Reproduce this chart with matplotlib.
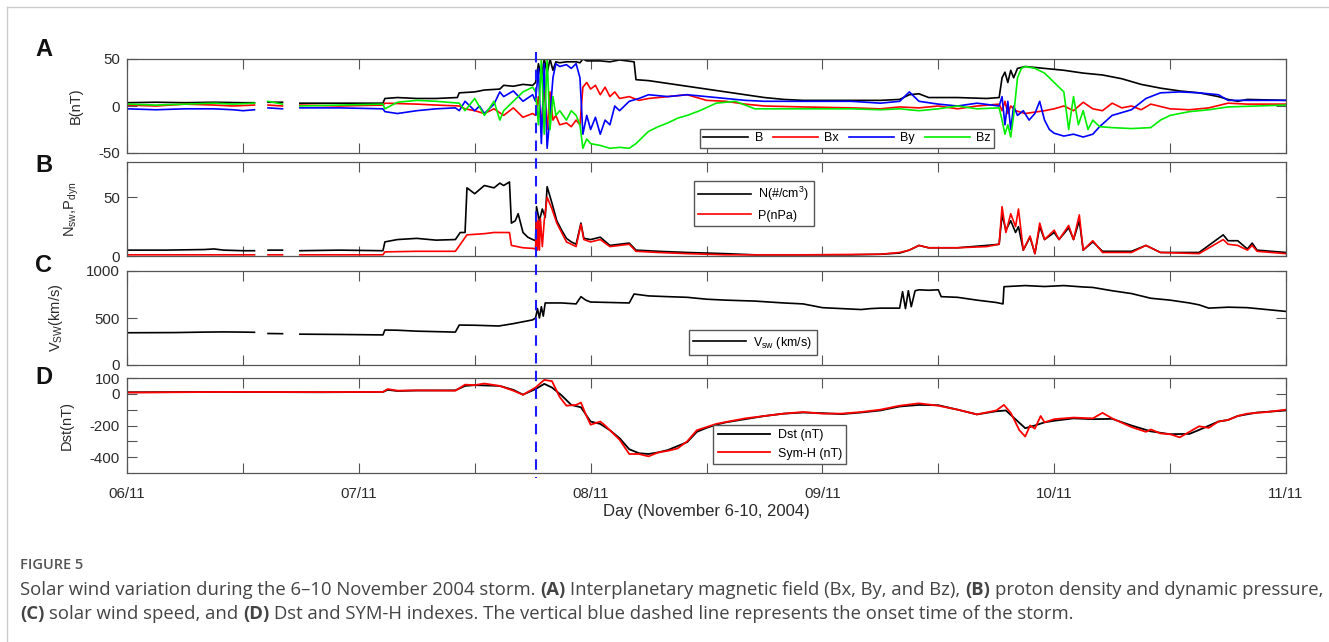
import numpy as np
import matplotlib
matplotlib.use("Agg")
import matplotlib.pyplot as plt
from matplotlib.lines import Line2D
from matplotlib.transforms import blended_transform_factory

# hours since 2004-11-06 00:00 UT; None = data gap
B_pts = [(0, 3.5), (3, 4), (6, 3.5), (9, 4), (12, 3.5), (13.2, 3.5), (13.9, None), (14.6, 4), (16.1, 4), (17, None),
         (17.9, 3), (22, 3), (26.5, 3), (26.7, 8), (28, 9), (30, 8), (32, 8), (34.2, 9), (34.4, 14), (36, 15),
         (37, 17), (38.6, 18), (39, 22), (40, 21), (41, 23), (42, 22), (42.3, 25), (42.6, 45), (42.9, 30),
         (43.2, 50), (43.5, 35), (43.8, 50), (44.1, 38), (44.4, 47), (44.8, 46), (45.5, 47), (46.5, 47),
         (46.9, 46), (47.2, 50), (47.6, 48), (49, 48), (50, 47), (51, 49), (52.5, 47), (52.7, 28), (54, 27),
         (56, 24), (58, 21), (60, 18), (62, 15), (64, 12), (66, 9), (68, 7), (70, 6), (75, 6), (78, 6), (80, 7),
         (81, 12), (82, 13), (83, 9), (86, 9), (89, 8), (90.3, 9), (90.6, 30), (90.9, 36), (91.2, 25), (91.5, 38),
         (91.8, 30), (92.2, 40), (93, 42), (95, 40), (97, 38), (99, 35), (101, 33), (103, 29), (105, 23),
         (107, 19), (109, 16), (111, 14), (113, 10), (114, 7), (115, 5), (116, 7), (120, 6)]
Bx_pts = [(0, 1), (3, 0), (6, 2), (9, 1), (11, 0), (13.2, 1), (13.9, None), (14.6, 1), (16.1, 0), (17, None),
          (17.9, 1), (22, 0), (26.5, 1), (26.7, 3), (30, 2), (32, 1), (34.4, 0), (35, -3), (36, -5), (37, -8),
          (38, -3), (39, -10), (40, -2), (41, -12), (42, -8), (42.3, -10), (42.6, 10), (42.9, -20), (43.2, 20),
          (43.5, -25), (43.8, 15), (44.1, -15), (44.4, -10), (44.8, -20), (45.5, -18), (46, -22), (46.5, -15),
          (46.9, -20), (47.2, 20), (47.6, 25), (48, 18), (48.5, 22), (49, 12), (49.5, 20), (50, 10), (50.5, 15),
          (51, 8), (52, 10), (53, 6), (54, 8), (56, 10), (58, 12), (60, 6), (62, 5), (64, 2), (66, 0), (70, -1),
          (75, -2), (78, -3), (80, -1), (82, -2), (84, 0), (86, -3), (88, 0), (90.3, 2), (90.6, -5), (90.9, 5),
          (91.2, -8), (91.5, 0), (92, -5), (93, -8), (95, -5), (96, -3), (97, 0), (98, -5), (99, 4), (100, -3),
          (101, -5), (102, 3), (103, -2), (104, 0), (105, -4), (106, 2), (108, -3), (110, -4), (112, -2),
          (114, 3), (116, 2), (120, 2)]
By_pts = [(0, -3), (3, -4), (6, -3), (9, -3), (11, -4), (12, -5), (13.2, -4), (13.9, None), (14.6, -2), (16.1, -3),
          (17, None), (17.9, -2), (22, -2), (26.5, -3), (26.7, -6), (28, -8), (30, -5), (32, -3), (34, -2),
          (34.4, -5), (35, 5), (36, -5), (36.5, 0), (37, -8), (38, 2), (38.6, 15), (39, 10), (40, 16), (41, 5),
          (42, 12), (42.3, 5), (42.6, 40), (42.9, -40), (43.2, 45), (43.5, -45), (43.8, -10), (44.1, 30),
          (44.4, 45), (44.8, 42), (45.5, 44), (46, 40), (46.5, 45), (46.9, 30), (47.2, -30), (47.6, -10),
          (48, -25), (48.5, -12), (49, -30), (49.5, -15), (50, -20), (50.5, 0), (51, -5), (52, 5), (53, 8),
          (54, 12), (56, 10), (58, 12), (60, 10), (62, 8), (64, 6), (66, 5), (70, 5), (75, 5), (78, 3), (80, 5),
          (81, 15), (82, 5), (84, 2), (86, 0), (88, 3), (90.3, 0), (90.6, 10), (90.9, -20), (91.2, 5), (91.5, -25),
          (91.8, 0), (92.2, -10), (92.8, -5), (93.4, -15), (94, -8), (94.5, 5), (95, -15), (95.5, -25), (96, -29),
          (97, -32), (98, -30), (99, -33), (100, -30), (100.7, -22), (102, -10), (104, -4), (105.5, 8), (107, 14),
          (109, 15), (111, 14), (113, 12), (114, 6), (117, 6), (120, 6)]
Bz_pts = [(0, 2), (3, 1), (6, 2), (9, 3), (11, 2), (13.2, 3), (13.9, None), (14.6, 5), (16.1, 2), (17, None),
          (17.9, 0), (22, 1), (26.5, 2), (26.7, -3), (28, 4), (30, 6), (32, 5), (34.4, 3), (35, -5), (36, 8),
          (37, -10), (38, 5), (38.6, -15), (39, -5), (40, 5), (41, 15), (42, 20), (42.3, 15), (42.6, -20),
          (42.9, 50), (43.2, -30), (43.5, 50), (43.8, -25), (44.1, 10), (44.4, -10), (44.8, -5), (45.5, -15),
          (46, -5), (46.5, -10), (46.9, -20), (47.2, -45), (47.6, -35), (48, -40), (49, -42), (50, -45), (51, -44),
          (52, -45), (52.7, -40), (54, -27), (55, -22), (56, -18), (57, -13), (58, -10), (59.3, -5), (61, 3),
          (63, 5), (65, -3), (70, -3), (75, -3), (78, -4), (80, -3), (82, -5), (84, -3), (86, 0), (88, -3),
          (90.3, -2), (90.6, -15), (90.9, -30), (91.2, -20), (91.5, -33), (91.8, -10), (92.2, 30), (92.6, 40),
          (93, 42), (94, 40), (95, 35), (96, 25), (97, 15), (97.5, -25), (98, 10), (98.5, -20), (99, -5),
          (99.5, -25), (100, -15), (100.7, -22), (102, -23), (104, -24), (106, -23), (107, -15), (108, -10),
          (110, -6), (112, -4), (114, -1), (117, 0), (120, 1)]

N_pts = [(0, 5), (4, 5), (8, 5.5), (9, 6), (10, 5), (12, 4.5), (13.2, 4.5), (13.9, None), (14.6, 5), (16.1, 5),
         (17, None), (17.9, 4.5), (22, 5), (26.5, 4.5), (26.7, 12), (28, 14), (30, 15), (32, 13.5), (34, 14),
         (34.5, 20), (35, 20), (35.2, 58), (36, 53), (37, 60), (38, 58), (38.6, 62), (39, 60), (39.6, 63),
         (39.8, 28), (40.2, 30), (40.5, 36), (41, 20), (41.5, 16), (42, 14), (42.3, 13), (42.4, 42), (42.7, 30),
         (43, 40), (43.3, 33), (43.5, 59), (44, 45), (44.5, 30), (45, 22), (45.5, 15), (46, 12), (46.5, 10),
         (47, 28), (47.3, 15), (48, 14), (49, 16), (50, 9), (51, 10), (52, 11), (52.7, 5), (55, 4), (58, 3),
         (62, 2), (65, 1), (70, 1), (75, 1), (78, 1.5), (80, 2.5), (81, 5), (82, 9), (83, 7), (86, 7), (89, 9),
         (90.3, 10), (90.6, 35), (91, 22), (91.5, 30), (92, 20), (92.3, 25), (92.8, 5), (93.5, 16), (94, 2),
         (94.5, 25), (95, 14), (96, 20), (96.5, 14), (97.5, 24), (98, 14), (98.6, 30), (99, 5), (100, 12),
         (101, 4), (104, 4), (105.5, 9), (107, 3), (111, 3), (113.5, 18), (114, 13), (115, 13), (116, 6),
         (116.5, 11), (117, 5), (120, 3)]
P_pts = [(0, 1), (12, 1), (13.2, 1), (13.9, None), (14.6, 1), (16.1, 1), (17, None), (17.9, 1), (26.5, 1),
         (26.7, 3.5), (30, 4), (34, 4), (35.2, 18), (37, 19), (38, 20), (39.6, 20), (39.8, 9), (41, 7), (42, 6.5),
         (42.3, 6), (42.4, 35), (42.5, 5), (42.6, 30), (42.7, 5), (42.8, 32), (43, 8), (43.2, 30), (43.5, 50),
         (44, 40), (44.5, 28), (45, 20), (45.5, 12), (46, 10), (46.5, 8), (47, 27), (47.3, 14), (48, 12),
         (49, 14), (50, 8), (51, 9), (52, 10), (52.7, 4), (55, 3), (58, 2), (62, 1), (70, 1), (78, 1.5), (80, 3),
         (81, 5), (82, 9), (83, 7), (86, 7), (89, 8), (90.3, 10), (90.6, 42), (91, 20), (91.5, 36), (92, 25),
         (92.3, 40), (92.8, 5), (93.5, 17), (94, 2), (94.5, 28), (95, 14), (96, 22), (96.5, 14), (97.5, 26),
         (98, 14), (98.6, 35), (99, 5), (100, 13), (101, 3), (104, 3), (105.5, 9), (107, 3), (111, 2),
         (113.5, 14), (114, 10), (115, 9), (116, 5), (116.5, 9), (117, 4), (120, 2)]

V_pts = [(0, 343), (5, 345), (8, 350), (10, 352), (12, 350), (13.2, 348), (13.9, None), (14.6, 335), (16.1, 333),
         (17, None), (17.9, 328), (22, 325), (26.5, 320), (26.7, 372), (28, 370), (30, 360), (32, 355), (34, 350),
         (34.4, 425), (36, 423), (38.5, 415), (40, 440), (42, 480), (42.3, 500), (42.5, 600), (42.7, 500),
         (42.9, 620), (43.1, 520), (43.3, 660), (45, 660), (46.5, 650), (47, 727), (47.5, 690), (48, 670),
         (50, 665), (52, 660), (52.5, 755), (54, 735), (56, 727), (58, 720), (60, 700), (62, 690), (65, 680),
         (68, 660), (70, 650), (72, 610), (74, 600), (76, 590), (77, 600), (78, 605), (80, 605), (80.3, 780),
         (80.6, 600), (80.9, 790), (81.2, 620), (81.6, 790), (82, 800), (83, 795), (84, 800), (84.3, 727),
         (86, 720), (88, 690), (90, 665), (90.7, 650), (90.8, 833), (93, 845), (95, 835), (97, 845), (99, 830),
         (100, 825), (102, 790), (104, 760), (106, 710), (108, 690), (110, 660), (111, 640), (112, 605),
         (114, 615), (116, 610), (118, 590), (120, 570)]

Dst_pts = [(0, 10), (10, 12), (20, 10), (26.5, 12), (27, 25), (28, 18), (30, 21), (34, 22), (35, 50), (36, 55),
           (38.6, 50), (40, 25), (41, -5), (42.3, 30), (43.2, 63), (44, 40), (45, -10), (46, -70), (47, -85),
           (48, -175), (49, -190), (50, -230), (51, -280), (52, -350), (53, -375), (54, -380), (55, -370),
           (56, -355), (57, -330), (58, -305), (59, -240), (60, -215), (61, -195), (62, -180), (64, -160),
           (66, -140), (68, -125), (70, -118), (72, -122), (74, -128), (76, -118), (78, -105), (80, -80),
           (82, -70), (84, -72), (86, -100), (88, -130), (90, -110), (91, -105), (93, -217), (94, -200),
           (95, -180), (96, -170), (98, -155), (100, -160), (102, -158), (104, -200), (106, -237), (108, -255),
           (110, -253), (111, -228), (113, -175), (114, -165), (115, -140), (117, -118), (120, -105)]
SymH_pts = [(0, 8), (10, 12), (20, 11), (26.5, 12), (27, 30), (28, 20), (30, 22), (34, 20), (35, 58), (36, 55),
            (37, 65), (38.6, 50), (40, 20), (41, -6), (42.3, 40), (43.2, 88), (44, 80), (44.8, -20), (45.5, -75),
            (46.5, -70), (47, -55), (47.5, -130), (48, -195), (49, -175), (49.5, -200), (50, -230), (51, -290),
            (52, -380), (53, -380), (54, -395), (55, -370), (56, -360), (57, -345), (58, -300), (59, -230),
            (60, -210), (61, -190), (62, -178), (64, -155), (66, -140), (68, -125), (70, -115), (72, -125),
            (74, -125), (76, -115), (78, -100), (80, -75), (82, -60), (84, -75), (86, -100), (88, -130),
            (90, -105), (90.8, -70), (91.5, -120), (92.4, -230), (93, -270), (93.5, -200), (94, -220),
            (94.6, -140), (95, -180), (96, -160), (98, -150), (100, -155), (101, -120), (102, -155), (104, -210),
            (105.5, -240), (106, -225), (107, -250), (108, -255), (109, -275), (110, -240), (111, -205),
            (112, -215), (113, -175), (114, -165), (115, -140), (116, -125), (118, -115), (120, -100)]

onset_hour = 42.3
day_labels = ['06/11', '07/11', '08/11', '09/11', '10/11', '11/11']


def xy(pts):
    a = np.array([(t, np.nan if v is None else v) for t, v in pts], dtype=float)
    return a[:, 0], a[:, 1]


plt.rcParams['font.family'] = ['Liberation Sans', 'DejaVu Sans']
plt.rcParams['mathtext.default'] = 'regular'
plt.rcParams['axes.unicode_minus'] = False

W, H = 1329, 642
fig = plt.figure(figsize=(W / 100, H / 100), dpi=100)

left, width = 127 / W, (1286 - 127) / W
panels = [(59, 153), (162, 256), (271, 365), (378, 473)]
axes = []
for top, bot in panels:
    ax = fig.add_axes([left, 1 - bot / H, width, (bot - top) / H])
    axes.append(ax)

spine_c = '#555555'
txt_c = '#2a2a2a'
for i, ax in enumerate(axes):
    ax.set_xlim(0, 120)
    ax.set_xticks(np.arange(0, 121, 12))
    ax.tick_params(direction='in', length=7, width=0.8, color=spine_c, top=True, right=True,
                   labelsize=10.8, labelcolor=txt_c)
    ax.tick_params(axis='y', pad=5)
    ax.tick_params(axis='x', pad=10)
    for s in ax.spines.values():
        s.set_color(spine_c)
        s.set_linewidth(0.9)
    if i < 3:
        ax.set_xticklabels([])
    else:
        ax.set_xticklabels([day_labels[k // 2] if k % 2 == 0 else '' for k in range(11)])

leg_kw = dict(fontsize=9, fancybox=False, edgecolor=spine_c, framealpha=1, borderaxespad=0,
              handletextpad=0.6, handlelength=4.2)
lw = 1.2
axA, axB, axC, axD = axes
for pts, c, lab in [(B_pts, 'k', 'B'), (Bx_pts, 'r', 'Bx'), (By_pts, 'b', 'By'), (Bz_pts, '#00ee00', 'Bz')]:
    t, v = xy(pts)
    axA.plot(t, v, color=c, lw=lw, label=lab)
axA.set_ylim(-50, 50)
axA.set_yticks([-50, 0, 50])
axA.set_ylabel('B(nT)', fontsize=10.5, color=txt_c)
axA.legend(ncol=4, loc='lower left', bbox_to_anchor=(0.494, 0.053), columnspacing=0.8, borderpad=0.3,
           **dict(leg_kw, handlelength=3.6, handletextpad=0.5))

t, v = xy(N_pts)
axB.plot(t, v, color='k', lw=lw, label='N(#/cm$^3$)')
t, v = xy(P_pts)
axB.plot(t, v, color='r', lw=lw, label='P(nPa)')
axB.set_ylim(0, 80)
axB.set_yticks([0, 50])
axB.set_ylabel('N$_{sw}$,P$_{dyn}$', fontsize=10.5, color=txt_c)
axB.legend(loc='lower left', bbox_to_anchor=(0.489, 0.319), borderpad=0.35, **leg_kw)

t, v = xy(V_pts)
axC.plot(t, v, color='k', lw=lw, label='V$_{sw}$ (km/s)')
axC.set_ylim(0, 1000)
axC.set_yticks([0, 500, 1000])
axC.set_ylabel('V$_{SW}$(km/s)', fontsize=10.5, color=txt_c)
axC.legend(loc='lower left', bbox_to_anchor=(0.485, 0.106), borderpad=0.35, **leg_kw)

t, v = xy(Dst_pts)
axD.plot(t, v, color='k', lw=1.3, label='Dst (nT)')
t, v = xy(SymH_pts)
axD.plot(t, v, color='r', lw=1.3, label='Sym-H (nT)')
axD.set_ylim(-500, 100)
axD.set_yticks([-400, -300, -200, -100, 0, 100])
axD.set_yticklabels(['-400', '', '-200', '', '0', '100'])
axD.set_ylabel('Dst(nT)', fontsize=10.5, color=txt_c)
axD.legend(loc='lower left', bbox_to_anchor=(0.506, 0.095), borderpad=0.35, **leg_kw)
axD.set_xlabel('Day (November 6-10, 2004)', fontsize=12, color=txt_c, labelpad=2)

for ax, xpix in zip(axes, [83, 81, 65, 74]):
    ax.yaxis.set_label_coords((xpix - 127) / (1286 - 127), 0.5)

# onset line across all panels
tr = blended_transform_factory(axA.transData, fig.transFigure)
fig.add_artist(Line2D([onset_hour, onset_hour], [1 - 52 / H, 1 - 478 / H], transform=tr, color='#1a1aff',
                      lw=1.5, ls=(0, (5, 3.5)), zorder=10))

for lab, ypix in zip('ABCD', [49, 166, 266, 377]):
    fig.text(44 / W, 1 - ypix / H, lab, fontsize=17, fontweight='bold', ha='center', va='center', color='#111111')

# frame of the figure card
fig.add_artist(Line2D([7 / W, 1], [1 - 7 / H, 1 - 7 / H], transform=fig.transFigure, color='#cccccc', lw=1))
fig.add_artist(Line2D([7 / W, 7 / W], [0, 1 - 7 / H], transform=fig.transFigure, color='#cccccc', lw=1))

# caption
cap_font = ['Open Sans', 'DejaVu Sans']
fig.text(20 / W, 1 - 565 / H, 'FIGURE 5', fontsize=10.5, family=cap_font, color='#555555', va='center',
         fontweight='semibold')
renderer = fig.canvas.get_renderer()


def rich_line(x0, ypix, parts, size=13.3):
    t1 = fig.text(0, 0, 'x x', fontsize=size, family=cap_font)
    t2 = fig.text(0, 0, 'xx', fontsize=size, family=cap_font)
    space = t1.get_window_extent(renderer).width - t2.get_window_extent(renderer).width
    t1.remove()
    t2.remove()
    x = x0
    for s, bold in parts:
        txt = fig.text(x / W, 1 - ypix / H, s.strip(), fontsize=size, family=cap_font, color='#444444',
                       va='center', fontweight='bold' if bold else 'normal')
        x += txt.get_window_extent(renderer).width
        if s.endswith(' '):
            x += space


rich_line(20, 590, [('Solar wind variation during the 6–10 November 2004 storm. ', False), ('(A) ', True),
                    ('Interplanetary magnetic field (Bx, By, and Bz), ', False), ('(B) ', True),
                    ('proton density and dynamic pressure,', False)])
rich_line(20, 614, [('(C) ', True), ('solar wind speed, and ', False), ('(D) ', True),
                    ('Dst and SYM-H indexes. The vertical blue dashed line represents the onset time of the storm.',
                     False)])

fig.savefig('out.png', dpi=100)
